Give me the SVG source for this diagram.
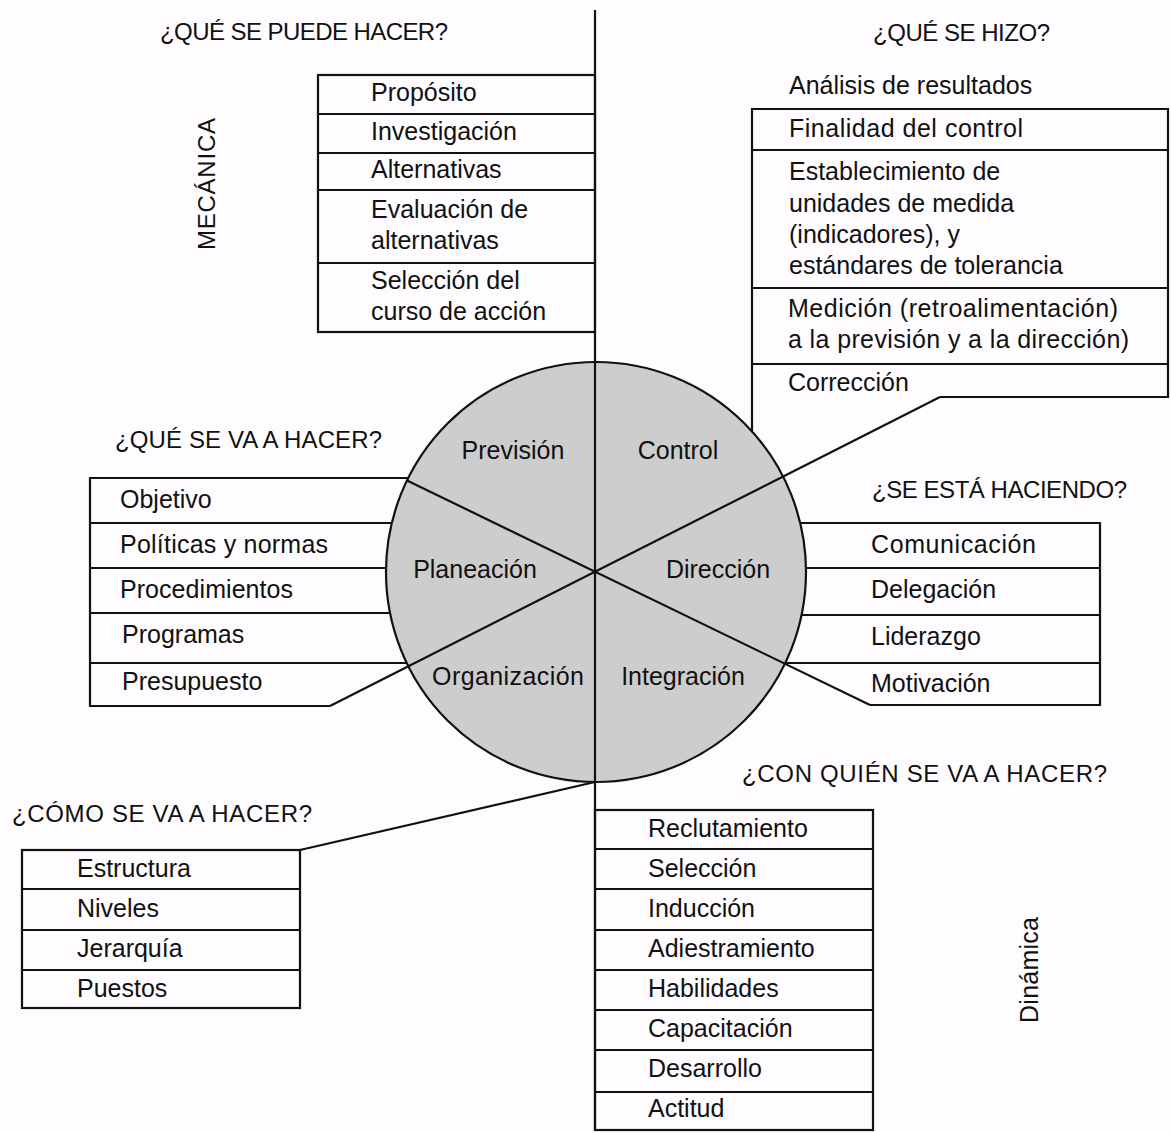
<svg xmlns="http://www.w3.org/2000/svg" width="1171" height="1133" viewBox="0 0 1171 1133">
<style>
text{font-family:"Liberation Sans",Arial,sans-serif;fill:#111;}
.t{font-size:25px;}
.h{font-size:24px;}
.c{font-size:25px;text-anchor:middle;}
.ln{stroke:#111;stroke-width:2.2;fill:none;}
</style>
<rect width="1171" height="1133" fill="#fefcfe"/>
<g id="circle">
<circle cx="596" cy="572" r="210" fill="#cdcdcd" stroke="#111" stroke-width="2.2"/>
</g>
<g id="connectors">
<line class="ln" x1="595" y1="10" x2="595" y2="1130"/>
<line class="ln" x1="330" y1="706" x2="940" y2="397"/>
<line class="ln" x1="407" y1="480.5" x2="870" y2="705"/>
<line class="ln" x1="300" y1="850" x2="595" y2="782"/>
</g>
<g id="sectors">
<text class="c" x="513" y="459">Previsión</text>
<text class="c" x="678" y="459">Control</text>
<text class="c" x="475" y="578">Planeación</text>
<text class="c" x="718" y="578">Dirección</text>
<text class="c" x="508" y="685" textLength="152" lengthAdjust="spacing">Organización</text>
<text class="c" x="683" y="685">Integración</text>
</g>
<g id="prevision">
<text class="h" x="160" y="40" textLength="288" lengthAdjust="spacing">¿QUÉ SE PUEDE HACER?</text>
<text class="h" transform="translate(215,184) rotate(-90)" text-anchor="middle" textLength="132" lengthAdjust="spacing">MECÁNICA</text>
<rect class="ln" x="318" y="75" width="277" height="257"/>
<path class="ln" d="M318 114H595M318 153H595M318 190H595M318 263H595"/>
<text class="t" x="371" y="101">Propósito</text>
<text class="t" x="371" y="140">Investigación</text>
<text class="t" x="371" y="178">Alternativas</text>
<text class="t" x="371" y="218">Evaluación de</text>
<text class="t" x="371" y="249">alternativas</text>
<text class="t" x="371" y="289">Selección del</text>
<text class="t" x="371" y="320">curso de acción</text>
</g>
<g id="control">
<text class="h" x="873" y="41" textLength="177" lengthAdjust="spacing">¿QUÉ SE HIZO?</text>
<text class="t" x="789" y="94">Análisis de resultados</text>
<path class="ln" d="M752 431V109H1168V397H940M752 150H1168M752 288H1168M752 364H1168"/>
<text class="t" x="789" y="137" textLength="234" lengthAdjust="spacing">Finalidad del control</text>
<text class="t" x="789" y="180">Establecimiento de</text>
<text class="t" x="789" y="212">unidades de medida</text>
<text class="t" x="789" y="243">(indicadores), y</text>
<text class="t" x="789" y="274">estándares de tolerancia</text>
<text class="t" x="788" y="317" textLength="330" lengthAdjust="spacing">Medición (retroalimentación)</text>
<text class="t" x="788" y="348" textLength="341" lengthAdjust="spacing">a la previsión y a la dirección)</text>
<text class="t" x="788" y="391">Corrección</text>
</g>
<g id="planeacion">
<text class="h" x="115" y="448" textLength="267" lengthAdjust="spacing">¿QUÉ SE VA A HACER?</text>
<path class="ln" d="M408 478H90V706H330M90 523H392M90 568H386M90 613H390M90 663H407"/>
<text class="t" x="120" y="508">Objetivo</text>
<text class="t" x="120" y="553" textLength="208" lengthAdjust="spacing">Políticas y normas</text>
<text class="t" x="120" y="598" textLength="173" lengthAdjust="spacing">Procedimientos</text>
<text class="t" x="122" y="643">Programas</text>
<text class="t" x="122" y="690">Presupuesto</text>
</g>
<g id="direccion">
<text class="h" x="872" y="498" textLength="255" lengthAdjust="spacing">¿SE ESTÁ HACIENDO?</text>
<path class="ln" d="M800 523H1100V705H870M806 568H1100M801.5 615H1100M785 663H1100"/>
<text class="t" x="871" y="553" textLength="165" lengthAdjust="spacing">Comunicación</text>
<text class="t" x="871" y="598">Delegación</text>
<text class="t" x="871" y="645">Liderazgo</text>
<text class="t" x="871" y="692">Motivación</text>
</g>
<g id="organizacion">
<text class="h" x="12" y="822" textLength="300" lengthAdjust="spacing">¿CÓMO SE VA A HACER?</text>
<rect class="ln" x="22" y="850" width="278" height="158"/>
<path class="ln" d="M22 889H300M22 930H300M22 970H300"/>
<text class="t" x="77" y="877">Estructura</text>
<text class="t" x="77" y="917">Niveles</text>
<text class="t" x="77" y="957">Jerarquía</text>
<text class="t" x="77" y="997">Puestos</text>
</g>
<g id="integracion">
<text class="h" x="742" y="782" textLength="365" lengthAdjust="spacing">¿CON QUIÉN SE VA A HACER?</text>
<text class="t" transform="translate(1038,970) rotate(-90)" text-anchor="middle" textLength="106" lengthAdjust="spacing">Dinámica</text>
<rect class="ln" x="595" y="810" width="278" height="320"/>
<path class="ln" d="M595 849H873M595 889H873M595 930H873M595 970H873M595 1010H873M595 1050H873M595 1092H873"/>
<text class="t" x="648" y="837">Reclutamiento</text>
<text class="t" x="648" y="877">Selección</text>
<text class="t" x="648" y="917">Inducción</text>
<text class="t" x="648" y="957">Adiestramiento</text>
<text class="t" x="648" y="997">Habilidades</text>
<text class="t" x="648" y="1037">Capacitación</text>
<text class="t" x="648" y="1077">Desarrollo</text>
<text class="t" x="648" y="1117">Actitud</text>
</g>
</svg>
